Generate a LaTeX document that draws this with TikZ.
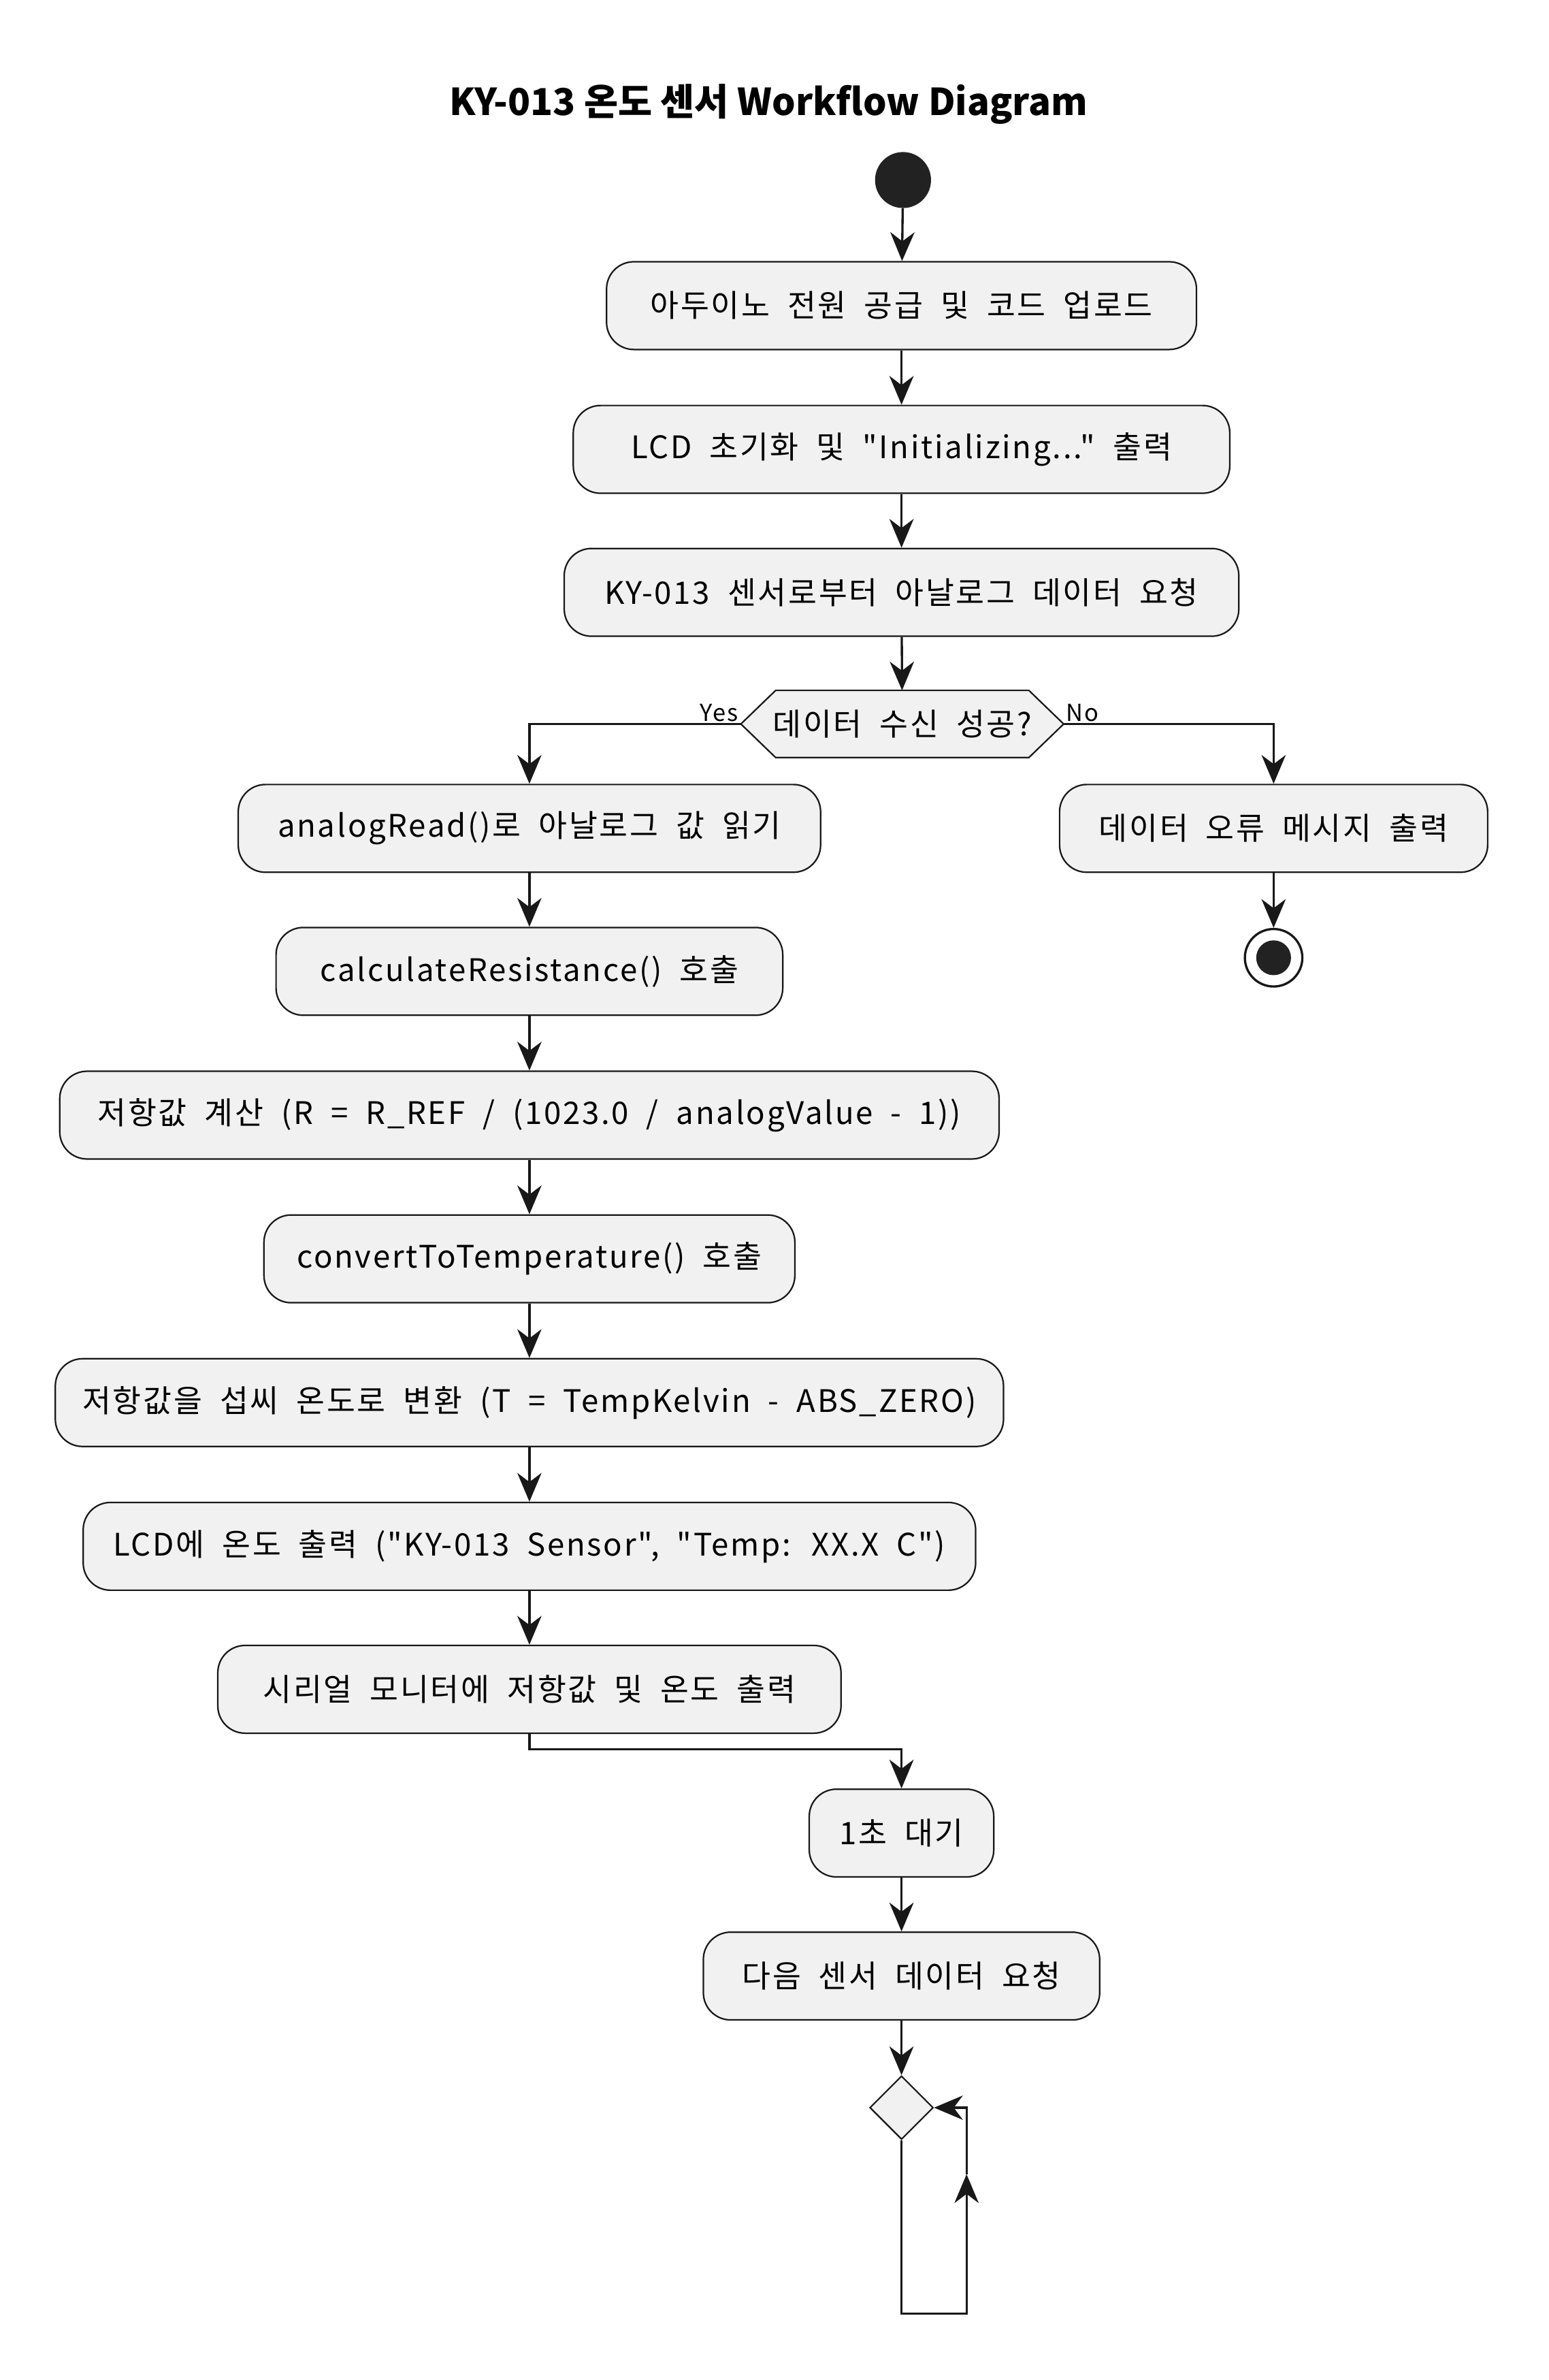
\documentclass[tikz,border=0pt]{standalone}
\usepackage{fontspec}
\newfontfamily\boxfont[LetterSpace=6,WordSpace=2]{Noto Sans CJK KR}
\newfontfamily\titlefont{Noto Sans CJK KR}
\usepackage{xcolor}
\usepackage{tikz}
\usetikzlibrary{arrows.meta,shapes.geometric,backgrounds,positioning}
\definecolor{boxfill}{HTML}{F1F1F1}
\definecolor{boxline}{HTML}{181818}
\definecolor{dotfill}{HTML}{222222}

\begin{document}
\begin{tikzpicture}[x=1pt,y=-1pt,
  action/.style={rectangle, rounded corners=18pt, draw=boxline, fill=boxfill, line width=1pt,
    minimum height=58pt, inner xsep=18pt, font=\boxfont\fontsize{20.5}{24}\selectfont},
  dectext/.style={inner sep=0pt, minimum width=213pt, minimum height=44pt,
    font=\boxfont\fontsize{20.5}{24}\selectfont},
  decbox/.style={draw=boxline, fill=boxfill, line width=1pt},
  branch/.style={inner sep=1pt, font=\boxfont\fontsize{15.5}{18}\selectfont},
  flow/.style={-{Stealth[length=19pt,width=16pt,inset=6pt]}, draw=boxline, line width=1.5pt},
  startdot/.style={circle, fill=dotfill, minimum size=37pt, inner sep=0pt},
  stopring/.style={circle, draw=boxline, fill=white, line width=1.5pt, minimum size=38pt, inner sep=0pt},
  stopdot/.style={circle, fill=dotfill, minimum size=23pt, inner sep=0pt},
  merge/.style={diamond, draw=boxline, fill=boxfill, line width=1pt, minimum width=42pt, minimum height=42pt, inner sep=0pt}]
\useasboundingbox (0,0) rectangle (1024,1573);
% Title
\node[font=\titlefont\bfseries\fontsize{24.5}{28}\selectfont] (title) at (508,69) {KY-013 온도 센서 Workflow Diagram};
% Start
\node[startdot] (start) at (597,119) {};
% Main column
\node[action, minimum width=390pt] (power) at (596,202) {아두이노 전원 공급 및 코드 업로드};
\node[action, minimum width=434pt] (lcdinit) at (596,297) {LCD 초기화 및 "Initializing..." 출력};
\node[action, minimum width=446pt] (request) at (596,391.5) {KY-013 센서로부터 아날로그 데이터 요청};
% Decision
\node[dectext] (check) at (596.5,478.5) {데이터 수신 성공?};
\begin{scope}[on background layer]
\draw[decbox] (check.west) -- ([xshift=23pt]check.north west) -- ([xshift=-23pt]check.north east)
  -- (check.east) -- ([xshift=-23pt]check.south east) -- ([xshift=23pt]check.south west) -- cycle;
\end{scope}
% Yes branch
\node[action, minimum width=385pt] (readval) at (350,547.5) {analogRead()로 아날로그 값 읽기};
\node[action, minimum width=335pt] (callres) at (350,642) {calculateResistance() 호출};
\node[action, minimum width=621pt] (calcres) at (350,737) {저항값 계산 (R = R\_REF / (1023.0 / analogValue - 1))};
\node[action, minimum width=351pt] (calltemp) at (350,832) {convertToTemperature() 호출};
\node[action, minimum width=625pt] (convtemp) at (350,927) {저항값을 섭씨 온도로 변환 (T = TempKelvin - ABS\_ZERO)};
\node[action, minimum width=590pt] (lcdout) at (350,1022) {LCD에 온도 출력 ("KY-013 Sensor", "Temp: XX.X C")};
\node[action, minimum width=412pt] (serial) at (350,1116.5) {시리얼 모니터에 저항값 및 온도 출력};
% No branch
\node[action, minimum width=283pt] (error) at (842,547.5) {데이터 오류 메시지 출력};
\node[stopring] (stop) at (842,633) {};
\node[stopdot] (stopdot) at (stop) {};
% Wait and loop
\node[action, minimum width=122pt] (wait) at (596,1211.5) {1초 대기};
\node[action, minimum width=262pt] (next) at (596,1306) {다음 센서 데이터 요청};
\node[merge] (again) at (596,1393) {};
\coordinate (loopA) at (596,1529);
\coordinate (loopB) at (639,1529);
\coordinate (loopM) at (639,1437);
\coordinate (loopC) at (639,1393);
% Arrows
\draw[flow] (start) -- (power);
\draw[flow] (power) -- (lcdinit);
\draw[flow] (lcdinit) -- (request);
\draw[flow] (request) -- (check);
\draw[flow] (check.west) -| node[pos=0, branch, anchor=south east] {Yes} (readval.north);
\draw[flow] (check.east) -| node[pos=0, branch, anchor=south west] {No} (error.north);
\draw[flow] (error) -- (stop);
\draw[flow] (readval) -- (callres);
\draw[flow] (callres) -- (calcres);
\draw[flow] (calcres) -- (calltemp);
\draw[flow] (calltemp) -- (convtemp);
\draw[flow] (convtemp) -- (lcdout);
\draw[flow] (lcdout) -- (serial);
\draw[flow] (serial.south) -- ++(0,10) -| (wait.north);
\draw[flow] (wait) -- (next);
\draw[flow] (next) -- (again);
\draw[flow] (again.south) -- (loopA) -- (loopB) -- (loopM);
\draw[flow] (loopM) -- (loopC) -- (again.east);
\end{tikzpicture}
\end{document}
